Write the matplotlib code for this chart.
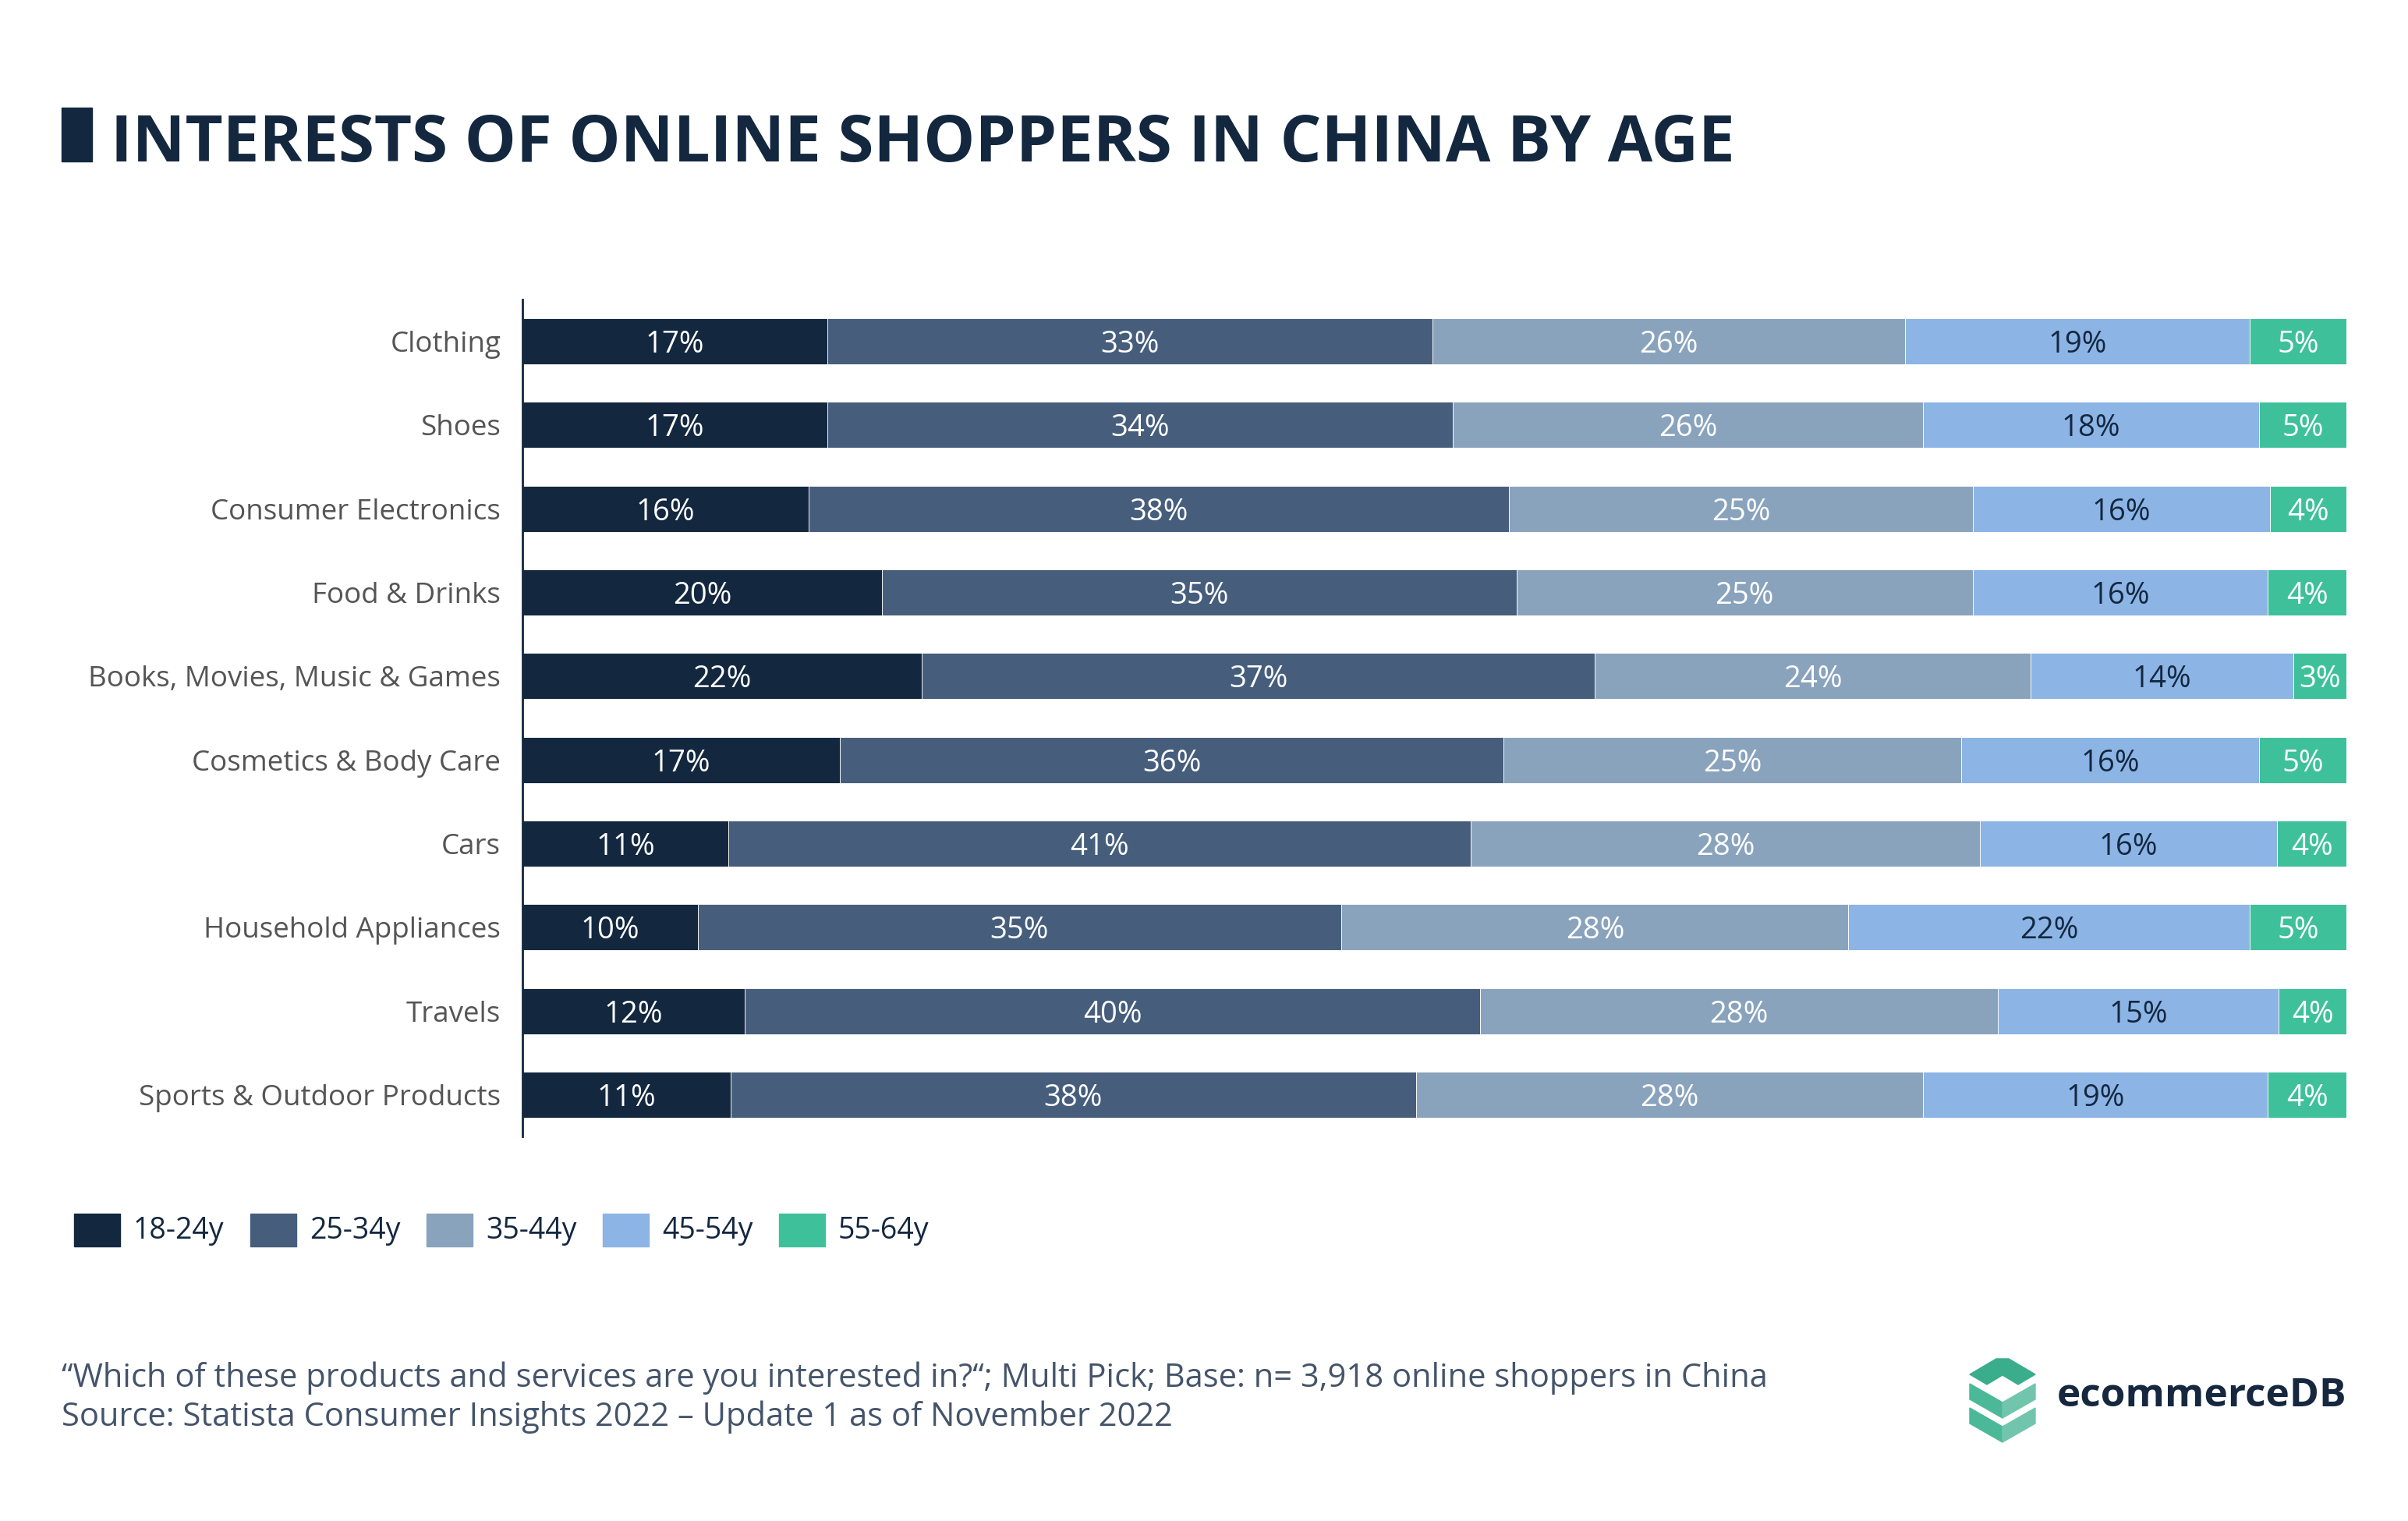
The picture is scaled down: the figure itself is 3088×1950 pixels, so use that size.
import matplotlib as mpl
import matplotlib.pyplot as plt
from matplotlib.patches import Rectangle, Polygon

CATEGORIES = [
    "Clothing",
    "Shoes",
    "Consumer Electronics",
    "Food & Drinks",
    "Books, Movies, Music & Games",
    "Cosmetics & Body Care",
    "Cars",
    "Household Appliances",
    "Travels",
    "Sports & Outdoor Products",
]
AGE_GROUPS = ["18-24y", "25-34y", "35-44y", "45-54y", "55-64y"]
AGE_18_24 = [16.7, 16.7, 15.7, 19.7, 21.9, 17.4, 11.3, 9.6, 12.2, 11.4]
AGE_25_34 = [33.2, 34.3, 38.4, 34.8, 36.9, 36.4, 40.7, 35.3, 40.3, 37.6]
AGE_35_44 = [25.9, 25.8, 25.4, 25.0, 23.9, 25.1, 27.9, 27.8, 28.4, 27.8]
AGE_45_54 = [18.9, 18.4, 16.3, 16.2, 14.4, 16.3, 16.3, 22.0, 15.4, 18.9]
AGE_55_64 = [5.3, 4.8, 4.2, 4.3, 2.9, 4.8, 3.8, 5.3, 3.7, 4.3]

COLORS = ["#13273f", "#465e7c", "#8aa3bd", "#8cb4e5", "#3ec19b"]
LABEL_COLORS = ["white", "white", "white", "#13273f", "white"]
NAVY = "#13273f"
W, H = 3088, 1950


def main():
    mpl.rcParams["font.family"] = ["Open Sans", "DejaVu Sans"]
    fig = plt.figure(figsize=(W / 100, H / 100), dpi=100)
    ax = fig.add_axes([670 / W, 1 - 1457 / H, (3009 - 670) / W, (1457 - 384) / H])

    series = [AGE_18_24, AGE_25_34, AGE_35_44, AGE_45_54, AGE_55_64]
    ys = range(len(CATEGORIES))
    left = [0.0] * len(CATEGORIES)
    for vals, color, lc, name in zip(series, COLORS, LABEL_COLORS, AGE_GROUPS):
        bars = ax.barh(ys, vals, left=left, height=0.55, color=color,
                       edgecolor="white", linewidth=0.6, label=name)
        for b, v in zip(bars, vals):
            ax.text(b.get_x() + b.get_width() / 2, b.get_y() + b.get_height() / 2,
                    f"{v:.0f}%", ha="center", va="center_baseline", color=lc,
                    fontsize=27.5)
        left = [l + v for l, v in zip(left, vals)]

    ax.set_xlim(0, 100)
    ax.set_ylim(len(CATEGORIES) - 0.5, -0.5)
    ax.set_yticks(list(ys))
    ax.set_yticklabels(CATEGORIES, fontsize=26.5, color="#555555")
    ax.tick_params(axis="y", length=0, pad=20)
    ax.set_xticks([])
    for s in ["top", "right", "bottom"]:
        ax.spines[s].set_visible(False)
    ax.spines["left"].set_color(NAVY)
    ax.spines["left"].set_linewidth(2)

    # title
    fig.patches.append(Rectangle((79 / W, 1 - 207 / H), 39 / W, 69 / H,
                                 transform=fig.transFigure, color=NAVY))
    fig.text(142 / W, 1 - 207 / H, "INTERESTS OF ONLINE SHOPPERS IN CHINA BY AGE",
             fontsize=60, fontweight="bold", color=NAVY, va="baseline")

    # legend
    x0 = 95
    for name, color in zip(AGE_GROUPS, COLORS):
        fig.patches.append(Rectangle((x0 / W, 1 - 1598 / H), 59 / W, 42 / H,
                                     transform=fig.transFigure, color=color))
        fig.text((x0 + 76) / W, 1 - 1578 / H, name, fontsize=27, color=NAVY,
                 va="center")
        x0 += 226

    # footer
    fig.text(79 / W, 1 - 1778 / H,
             "\u201cWhich of these products and services are you interested in?\u201c; "
             "Multi Pick; Base: n= 3,918 online shoppers in China",
             fontsize=30, color="#44546a", va="baseline")
    fig.text(79 / W, 1 - 1828 / H,
             "Source: Statista Consumer Insights 2022 \u2013 Update 1 as of November 2022",
             fontsize=30, color="#44546a", va="baseline")

    # logo
    def px(pts):
        return [(x / W, 1 - y / H) for x, y in pts]

    cx = 2568
    shapes = [
        ([(cx - 42, 1762), (cx - 8, 1742), (cx + 8, 1742), (cx + 42, 1762),
          (cx + 20, 1775), (cx, 1763), (cx - 20, 1775)], "#3aad8c"),
        ([(cx - 42, 1774), (cx, 1798), (cx, 1818), (cx - 42, 1794)], "#4bb898"),
        ([(cx, 1798), (cx + 42, 1774), (cx + 42, 1794), (cx, 1818)], "#72c5ad"),
        ([(cx - 42, 1805), (cx, 1829), (cx, 1849), (cx - 42, 1825)], "#4bb898"),
        ([(cx, 1829), (cx + 42, 1805), (cx + 42, 1825), (cx, 1849)], "#72c5ad"),
    ]
    for pts, c in shapes:
        fig.patches.append(Polygon(px(pts), closed=True, transform=fig.transFigure,
                                   color=c))
    fig.text(3009 / W, 1 - 1790 / H, "ecommerceDB", fontsize=37, fontweight="bold",
             color="#16283f", ha="right", va="center")

    fig.savefig("out.png", dpi=100)


if __name__ == "__main__":
    main()
